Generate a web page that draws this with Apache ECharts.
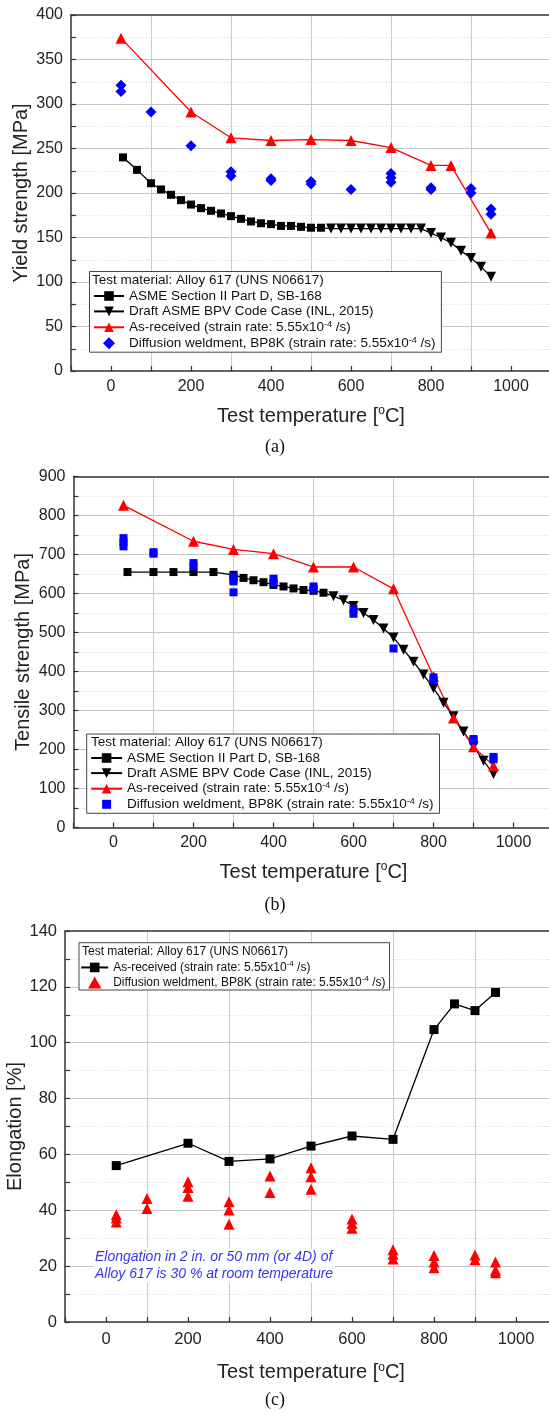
<!DOCTYPE html>
<html><head><meta charset="utf-8">
<script src="https://cdn.jsdelivr.net/npm/echarts@6/dist/echarts.min.js"></script>
<style>html,body{margin:0;padding:0;background:#fff}#c{width:549px;height:1412px}</style>
</head><body><div id="c"></div>
<script>
// ---------- Panel (a): Yield strength [MPa] ----------
const asmeYieldT = [30,65,100,125,150,175,200,225,250,275,300,325,350,375,400,425,450,475,500,525];
const asmeYield  = [240,226,211,204,198,192,187,183,180,177,174,171,168,166,165,163,163,162,161,161];
const draftYieldT = [550,575,600,625,650,675,700,725,750,775,800,825,850,875,900,925,950];
const draftYield  = [160,160,160,160,160,160,160,160,160,160,155,150,144,135,127,117,106];
const arYieldT = [25,200,300,400,500,600,700,800,850,950];
const arYield  = [374,291,262,259,260,259,251,231,231,155];
const dwYieldT = [25,25,100,200,300,300,400,400,500,500,600,700,700,700,800,800,900,900,950,950];
const dwYield  = [321,314,291,253,224,219,216,214,213,210,204,222,217,212,206,204,205,200,182,176];

// ---------- Panel (b): Tensile strength [MPa] ----------
const asmeTensT = [35,100,150,200,250,300,325,350,375,400,425,450,475,500,525];
const asmeTens  = [655,655,655,655,655,648,640,634,629,622,618,613,609,607,602];
const draftTensT = [550,575,600,625,650,675,700,725,750,775,800,825,850,875,900,925,950];
const draftTens  = [593,583,568,550,532,510,487,456,425,392,357,320,285,246,208,171,137];
const arTensT = [25,200,300,400,500,600,700,800,850,900,950];
const arTens  = [826,734,713,702,668,668,612,387,281,207,158];
const dwTensT = [25,25,25,100,100,200,200,300,300,300,300,400,400,500,500,600,600,700,800,800,900,900,950,950];
const dwTens  = [742,732,721,706,702,678,670,643,636,631,603,638,628,618,612,560,548,459,385,378,227,223,181,175];

// ---------- Panel (c): Elongation [%] ----------
const arElongT = [25,200,300,400,500,600,700,800,850,900,950];
const arElong  = [56,64,57.5,58.4,63,66.6,65.4,104.7,113.9,111.5,118];
const dwElongT = [25,25,25,100,100,200,200,200,300,300,300,400,400,500,500,500,600,600,600,700,700,700,800,800,800,900,900,950,950,950];
const dwElong  = [38.4,37.2,35.8,44.2,40.6,50.2,48.2,45,43.1,40.1,35,52.3,46.4,55.2,52,47.5,36.9,35.3,33.6,25.9,24.3,22.6,23.8,21.5,19.4,24,22.3,21.5,18.5,17.6];

// ---------- Labels ----------
const xTitle = '{n|Test temperature [}{s|o}{n|C]}';
const yTitles = ['Yield strength [MPa]', 'Tensile strength [MPa]', 'Elongation [%]'];
const legendHeader = 'Test material: Alloy 617 (UNS N06617)';
const captions = ['(a)', '(b)', '(c)'];
const noteLines = ['Elongation in 2 in. or 50 mm (or 4D) of', 'Alloy 617 is 30 % at room temperature'];
const LBL = {
  ASME: '{t|ASME Section II Part D, SB-168}',
  DRAFT: '{t|Draft ASME BPV Code Case (INL, 2015)}',
  AR: '{t|As-received (strain rate: 5.55x10}{s|-4}{t| /s)}',
  DW: '{t|Diffusion weldment, BP8K (strain rate: 5.55x10}{s|-4}{t| /s)}'
};
const legendNames = {
  a1: LBL.ASME, a2: LBL.DRAFT, a3: LBL.AR, a4: LBL.DW,
  b1: LBL.ASME, b2: LBL.DRAFT, b3: LBL.AR, b4: LBL.DW,
  c1: LBL.AR, c2: LBL.DW
};

const FONT = '"Liberation Sans", Arial, Helvetica, sans-serif';
const SERIF = '"Liberation Serif", "Times New Roman", serif';
const zip = (xs, ys) => xs.map((x, i) => [x, ys[i]]);

const ICON_DIAMOND = 'path://M5,0L10,5L5,10L0,5Z';
const ICON_SQUARE = 'path://M0,0M12,12M1.5,1.5H10.5V10.5H1.5Z';
const ICON_TRI = 'path://M5,0L10,9L0,9Z';

const grids = [
  {left: 71,   top: 15,    width: 480, height: 356},
  {left: 73.5, top: 476.5, width: 480, height: 351},
  {left: 65,   top: 931,   width: 492, height: 391}
].map(g => Object.assign({show: false, outerBoundsMode: 'none', containLabel: false}, g));

function mkX(gi, nameGap, margin, fs) {
  return {
    type: 'value', gridIndex: gi, position: 'bottom', min: -100, max: 1100, interval: 100,
    name: xTitle, nameLocation: 'middle', nameGap: nameGap, nameMoveOverlap: false,
    nameTextStyle: {rich: {
      n: {fontSize: 20, fontFamily: FONT, color: '#222', lineHeight: 22},
      s: {fontSize: 12, fontFamily: FONT, color: '#222', lineHeight: 12, verticalAlign: 'top'}
    }},
    axisLine: {show: true, onZero: false, lineStyle: {color: '#333', width: 1.5}},
    axisTick: {show: true, inside: true, length: 5, interval: 0, lineStyle: {color: '#333', width: 1.2}},
    axisLabel: {interval: 0, margin: margin, fontSize: fs, fontFamily: FONT, color: '#222',
      formatter: v => (v % 200 === 0 ? String(v) : '')},
    splitLine: {show: true, showMinLine: false, showMaxLine: false,
      lineStyle: {color: ['rgba(0,0,0,0)', '#c6c6c6'], width: 1}}
  };
}
function mkAuxX(gi) {
  return {
    type: 'value', gridIndex: gi, position: 'top', min: -100, max: 1100, interval: 200,
    axisLine: {show: true, onZero: false, lineStyle: {color: '#333', width: 1.5}},
    axisTick: {show: false}, axisLabel: {show: false},
    splitLine: {show: true, showMinLine: false, showMaxLine: false,
      lineStyle: {color: '#d6d6d6', width: 1, type: [1, 2]}}
  };
}
function mkY(gi, max, interval, name, nameGap, fs) {
  return {
    type: 'value', gridIndex: gi, min: 0, max: max, interval: interval,
    name: name, nameLocation: 'middle', nameGap: nameGap, nameMoveOverlap: false,
    nameTextStyle: {fontSize: 20, fontFamily: FONT, color: '#222'},
    axisLine: {show: true, onZero: false, lineStyle: {color: '#333', width: 1.5}},
    axisTick: {show: true, inside: true, length: 5, lineStyle: {color: '#333', width: 1.2}},
    minorTick: {show: true, splitNumber: 2, length: 5, lineStyle: {color: '#333', width: 1.2}},
    axisLabel: {margin: 8, fontSize: fs, fontFamily: FONT, color: '#222'},
    splitLine: {show: true, showMinLine: false, showMaxLine: false, lineStyle: {color: '#c6c6c6', width: 1}},
    minorSplitLine: {show: true, lineStyle: {color: '#d6d6d6', width: 1, type: [1, 2]}}
  };
}

function mkLegend(items, left, top, padding, itemWidth, itemGap, fs, lh) {
  return {
    show: true, orient: 'vertical', left: left, top: top, padding: padding,
    itemWidth: itemWidth, itemHeight: 12, itemGap: itemGap, selectedMode: false, symbolKeepAspect: true,
    backgroundColor: '#fff', borderColor: '#444', borderWidth: 1, borderRadius: 0,
    data: items, formatter: n => legendNames[n],
    textStyle: {fontFamily: FONT, fontSize: fs, color: '#111', rich: {
      t: {fontFamily: FONT, fontSize: fs, color: '#111', lineHeight: lh},
      s: {fontFamily: FONT, fontSize: Math.round(fs * 0.65), color: '#111', lineHeight: Math.round(fs * 0.7), verticalAlign: 'top'}
    }}
  };
}

function lineSeries(name, xi, yi, data, symbol, size, color, rotate) {
  return {type: 'line', name: name, xAxisIndex: xi, yAxisIndex: yi, data: data,
    symbol: symbol, symbolSize: size, symbolRotate: rotate || 0, showSymbol: true,
    itemStyle: {color: color}, lineStyle: {color: color, width: 1.3}, z: 3, animation: false};
}
function scatterSeries(name, xi, yi, data, symbol, size, color) {
  return {type: 'scatter', name: name, xAxisIndex: xi, yAxisIndex: yi, data: data,
    symbol: symbol, symbolSize: size, itemStyle: {color: color, opacity: 1}, z: 4, animation: false};
}

// Draft code case curve continues from the last ASME point (drawn without a marker)
function withLead(xs0, ys0, xs, ys) {
  return [{value: [xs0[xs0.length - 1], ys0[ys0.length - 1]], symbol: 'none'}].concat(zip(xs, ys));
}

const series = [
  lineSeries('a1', 0, 0, zip(asmeYieldT, asmeYield), 'rect', 8, '#000'),
  lineSeries('a2', 0, 0, withLead(asmeYieldT, asmeYield, draftYieldT, draftYield), 'triangle', 10, '#000', 180),
  lineSeries('a3', 0, 0, zip(arYieldT, arYield), 'triangle', 11, '#ff0000'),
  scatterSeries('a4', 0, 0, zip(dwYieldT, dwYield), 'diamond', 11, '#0000ff'),

  lineSeries('b1', 2, 1, zip(asmeTensT, asmeTens), 'rect', 8, '#000'),
  lineSeries('b2', 2, 1, withLead(asmeTensT, asmeTens, draftTensT, draftTens), 'triangle', 10, '#000', 180),
  lineSeries('b3', 2, 1, zip(arTensT, arTens), 'triangle', 11, '#ff0000'),
  scatterSeries('b4', 2, 1, zip(dwTensT, dwTens), 'rect', 8, '#0000ff'),

  lineSeries('c1', 4, 2, zip(arElongT, arElong), 'rect', 9, '#000'),
  scatterSeries('c2', 4, 2, zip(dwElongT, dwElong), 'triangle', 11, '#ff0000')
];

const headerPos = [[92, 280], [91, 742.7], [82, 951.7]];
const headerSize = [13.5, 13.5, 12];
const captionY = [447, 905, 1400];

const graphic = [];
headerPos.forEach((p, i) => graphic.push({type: 'text', z: 100, zlevel: 1,
  style: {x: p[0], y: p[1], text: legendHeader, verticalAlign: 'middle', align: 'left',
    font: headerSize[i] + 'px ' + FONT, fill: '#111'}}));
captionY.forEach((y, i) => graphic.push({type: 'text', z: 100,
  style: {x: 275, y: y, text: captions[i], verticalAlign: 'middle', align: 'center',
    font: '18px ' + SERIF, fill: '#111'}}));
graphic.push({type: 'text', z: 50,
  style: {x: 94, y: 1248.5, text: noteLines.join('\n'), verticalAlign: 'top', align: 'left',
    font: 'italic 14px ' + FONT, fill: '#3535f0', lineHeight: 17, backgroundColor: '#fff', padding: [0, 2, 0, 1]}});

const chart = echarts.init(document.getElementById('c'), null, {renderer: 'canvas'});
chart.setOption({
  animation: false,
  backgroundColor: '#fff',
  grid: grids,
  xAxis: [mkX(0, 34, 7.5, 16), mkAuxX(0), mkX(1, 33.5, 7.5, 16), mkAuxX(1), mkX(2, 39.5, 8.5, 16.5), mkAuxX(2)],
  yAxis: [mkY(0, 400, 50, yTitles[0], 40, 16), mkY(1, 900, 100, yTitles[1], 40, 16), mkY(2, 140, 20, yTitles[2], 40, 16.5)],
  legend: [
    mkLegend([{name: 'a1'}, {name: 'a2'}, {name: 'a3'}, {name: 'a4', icon: ICON_DIAMOND}],
      89.5, 271.5, [17.5, 6, 2, 3.5], 30, 1.4, 13.5, 15),
    mkLegend([{name: 'b1'}, {name: 'b2'}, {name: 'b3'}, {name: 'b4', icon: ICON_SQUARE}],
      86.7, 734, [17, 6, 2, 3.4], 31, 1.1, 13.5, 15),
    mkLegend([{name: 'c1'}, {name: 'c2', icon: ICON_TRI}],
      79, 942.7, [17.5, 4, 1.5, 1.2], 27, 1.8, 12, 14.5)
  ],
  graphic: graphic,
  series: series
});
</script>
</body></html>
